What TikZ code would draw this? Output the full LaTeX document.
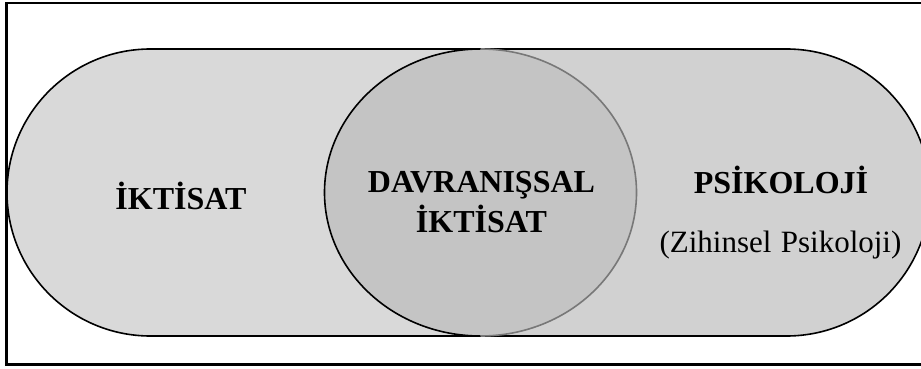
\documentclass[tikz,border=0pt]{standalone}
\usepackage{fontspec}
\setmainfont{Liberation Serif}
\begin{document}
\begin{tikzpicture}[x=1pt,y=1pt,
  lbl/.style={font=\fontsize{32}{38}\selectfont\bfseries, anchor=base, inner sep=0pt, align=center},
  sub/.style={font=\fontsize{31}{36}\selectfont, anchor=base, inner sep=0pt}]
\useasboundingbox (0,0) rectangle (921,368);
\clip (0,0) rectangle (921,368);
\fill[white] (0,0) rectangle (921,368);
% stadium fills
\def\stadium{(150.5,319) -- (786.5,319) arc[start angle=90,end angle=-90,radius=143.5] -- (150.5,32) arc[start angle=270,end angle=90,radius=143.5] -- cycle}
\begin{scope}
  \clip (0,0) rectangle (480.5,368);
  \fill[fill={rgb,255:red,217;green,217;blue,217}] \stadium;
\end{scope}
\begin{scope}
  \clip (480.5,0) rectangle (921,368);
  \fill[fill={rgb,255:red,209;green,209;blue,209}] \stadium;
\end{scope}
\draw[line width=1.6pt] \stadium;
% middle circle
\fill[fill={rgb,255:red,196;green,196;blue,196}] (480.5,175.5) ellipse[x radius=156, y radius=143.5];
\draw[line width=1.6pt] (480.5,319) arc[start angle=90,end angle=270,x radius=156,y radius=143.5];
\draw[line width=1.6pt, draw={rgb,255:red,120;green,120;blue,120}] (480.5,32) arc[start angle=-90,end angle=90,x radius=156,y radius=143.5];
% border
\draw[line width=2.6pt] (6.5,365) -- (935,365);
\draw[line width=2.6pt] (6.5,3.5) -- (935,3.5);
\draw[line width=2.6pt] (6.5,2.2) -- (6.5,366.3);
% texts
\node[lbl] (ikt) at (181,159) {İKTİSAT};
\node[lbl] (dav) at (481.5,176) {DAVRANIŞSAL};
\node[lbl] (dik) at (481.5,136) {İKTİSAT};
\node[lbl] (psi) at (781,175) {PSİKOLOJİ};
\node[sub] (zih) at (780.5,116) {(Zihinsel\hspace{0.3em}Psikoloji)};
\end{tikzpicture}
\end{document}
